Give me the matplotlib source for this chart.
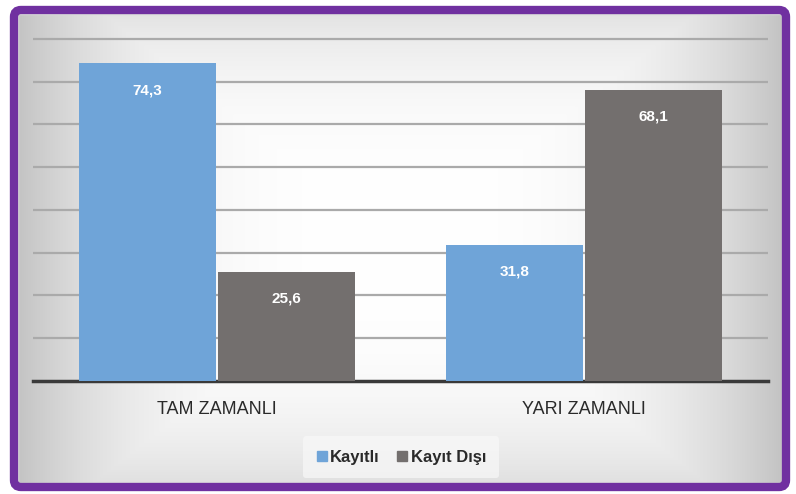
import numpy as np
import matplotlib.pyplot as plt
from matplotlib.patches import FancyBboxPatch, Rectangle
from matplotlib.lines import Line2D

categories = ['TAM ZAMANLI', 'YARI ZAMANLI']
kayitli = [74.3, 31.8]
kayit_disi = [25.6, 68.1]
series_names = ['Kayıtlı', 'Kayıt Dışı']
value_labels_1 = ['74,3', '31,8']
value_labels_2 = ['25,6', '68,1']

blue = '#6fa4d8'
gray = '#736f6e'
purple = '#7030a0'

plt.rcParams['font.family'] = ['Liberation Sans', 'DejaVu Sans']

fig = plt.figure(figsize=(7.96, 4.94), dpi=100)

# background: rectangular gradient, gray at the sides, white in the middle
bg = fig.add_axes([0, 0, 1, 1])
bg.set_xlim(0, 796)
bg.set_ylim(494, 0)
bg.axis('off')
xx = np.linspace(14, 786, 400)
yy = np.linspace(10, 487, 250)
X, Y = np.meshgrid(xx, yy)
t = np.maximum(np.abs(X - 400) / 386, np.abs(Y - 245) / 300)
shade = 1.0 - 0.24 * np.clip(t, 0, 1) ** 3
img = np.dstack([shade, shade, shade])
bg.imshow(img, extent=[14, 786, 487, 10], aspect='auto', zorder=1)
bg.add_patch(Rectangle((18, 14), 764, 469, fill=False, ec='#dcdcdc', lw=1, zorder=2))
bg.add_patch(FancyBboxPatch((14, 10), 772, 477, boxstyle='round,pad=0,rounding_size=7',
                            fill=False, ec=purple, lw=6, zorder=3))

ax = fig.add_axes([33 / 796, 1 - 381 / 494, 735 / 796, 344 / 494])
ax.patch.set_alpha(0)
x = np.arange(len(categories))
w = 0.372
b1 = ax.bar(x - w / 2 - 0.003, kayitli, w, color=blue, zorder=3)
b2 = ax.bar(x + w / 2 + 0.003, kayit_disi, w, color=gray, zorder=3)

for bars, labels in [(b1, value_labels_1), (b2, value_labels_2)]:
    for bar, lab in zip(bars, labels):
        ax.text(bar.get_x() + bar.get_width() / 2, bar.get_height() - 6.3, lab,
                ha='center', va='center', color='white', fontsize=11, fontweight='bold', zorder=4)

ax.set_xlim(-0.5, 1.5)
ax.set_ylim(0, 80.45)
ax.set_yticks(range(10, 81, 10))
ax.yaxis.grid(True, color='#aaaaaa', lw=1.6, zorder=0)
ax.tick_params(axis='y', left=False, labelleft=False)
ax.tick_params(axis='x', bottom=False, labelsize=13, pad=11, labelcolor='#2a2a2a')
ax.set_xticks(x)
ax.set_xticklabels(categories)
for s in ['top', 'right', 'left']:
    ax.spines[s].set_visible(False)
ax.spines['bottom'].set_color('#3a3a3a')
ax.spines['bottom'].set_linewidth(2.5)

handles = [Line2D([], [], marker='s', ls='', color=blue, markersize=7),
           Line2D([], [], marker='s', ls='', color=gray, markersize=7)]
leg = fig.legend(handles, series_names, loc='center', bbox_to_anchor=(401 / 796, 1 - 457 / 494),
                 ncol=2, frameon=True, fontsize=12, handlelength=0.7, handletextpad=0.15,
                 columnspacing=1.0, borderpad=0.8)
leg.get_frame().set_facecolor('#f8f8f8')
leg.get_frame().set_edgecolor('none')
leg.get_frame().set_alpha(0.7)
for t in leg.get_texts():
    t.set_color('#2a2a2a')
    t.set_fontweight('bold')

fig.savefig('out.png', dpi=100)
